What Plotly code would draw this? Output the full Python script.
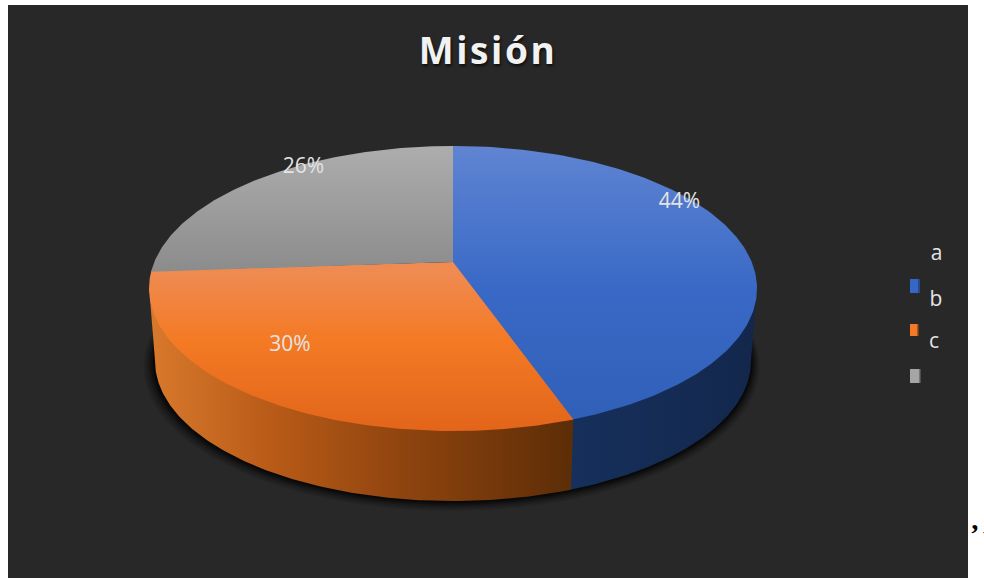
import numpy as np
import plotly.graph_objects as go

# Chart content
title_text = "Misión"
categories = ["a", "b", "c"]
shares = [44, 30, 26]

# Pixel-space canvas
WIDTH, HEIGHT = 984, 578
PANEL = "#282828"
TEXT = "#e4e4e4"

# Perspective model of the disc: unit circle -> canvas
CX, CY = 453.0, 262.0
K = 0.186
A = 298.7
B = 137.6
DEPTH_SCALE = 0.98
DEPTH_SHIFT = 73.4
RIM_TWIST = np.radians(3.2)


def top_rim(theta):
    """Project clockwise-from-north angles (radians) onto the upper face."""
    u, v = np.sin(theta), np.cos(theta)
    w = 1 + K * v
    return CX + A * u / w, CY - B * v / w


def bottom_rim(theta):
    x, y = top_rim(theta)
    return CX + DEPTH_SCALE * (x - CX), CY + DEPTH_SHIFT + DEPTH_SCALE * (y - CY)


def arc(a0, a1, n=160):
    return np.linspace(a0, a1, n)


fig = go.Figure()

# Soft drop shadow hugging the lower rim
full = arc(0, 2 * np.pi, 300)
for grow, drop, alpha in [(10, 5, 0.10), (8, 4, 0.14), (6, 3, 0.2), (4, 2, 0.3), (2, 1, 0.4)]:
    bx, by = bottom_rim(full)
    f = 1 + grow / 298
    fig.add_trace(go.Scatter(
        x=CX + f * (bx - CX) - grow * 0.15,
        y=by + drop + (f - 1) * (by - 360),
        mode="lines", line=dict(width=0), fill="toself",
        fillcolor=f"rgba(0,0,0,{alpha})", hoverinfo="skip", showlegend=False,
    ))

# Edges of the wedges, from the shares; the twist models the 3D view rotation
edges = np.cumsum([0] + shares) / sum(shares) * 2 * np.pi
edges = edges - RIM_TWIST * np.sin(2 * edges)
TANGENT = np.arccos(-K)  # angle where the rim turns away from the viewer
OVERLAP = np.radians(0.4)  # lower layers run under their neighbours to hide seams

wall_ramps = [
    [[0, "#16305c"], [1, "#13274c"]],
    [[0, "#d8792c"], [0.3, "#b75a17"], [0.6, "#8f440f"], [1, "#5c2d07"]],
]

# Side walls of the two wedges facing the viewer
wall_spans = [(TANGENT, edges[1] + OVERLAP), (edges[1], 2 * np.pi - TANGENT)]
for (a0, a1), ramp in zip(wall_spans, wall_ramps):
    t = arc(a0, a1)
    tx, ty = top_rim(t)
    bx, by = bottom_rim(t)
    ty = ty - 2  # tuck the wall's upper edge under the face
    xs = np.concatenate([tx, bx[::-1], tx[:1]])
    ys = np.concatenate([ty, by[::-1], ty[:1]])
    fig.add_trace(go.Scatter(
        x=xs, y=ys, mode="lines", line=dict(width=0), fill="toself",
        fillgradient=dict(type="horizontal", colorscale=ramp,
                          start=float(xs.min()), stop=float(xs.max())),
        hoverinfo="skip", showlegend=False,
    ))

# Upper faces with a top-lit vertical gradient
face_ramps = [
    [[0, "#5f84d2"], [0.5, "#3969c6"], [1, "#2f5fb6"]],
    [[0, "#f09a6a"], [0.45, "#ef8a50"], [0.68, "#f47a24"], [1, "#e2651a"]],
    [[0, "#adadad"], [0.45, "#8b8b8b"], [1, "#8b8b8b"]],
]
face_spans = [
    (edges[0] - OVERLAP, edges[1] + OVERLAP, 3.0),
    (edges[1], edges[2] + OVERLAP, 0.0),
    (edges[2], edges[3], 0.0),
]
for (a0, a1, apex_push), ramp in zip(face_spans, face_ramps):
    mid = (a0 + a1) / 2
    ax, ay = CX - apex_push * np.sin(mid), CY + apex_push * np.cos(mid)
    rx, ry = top_rim(arc(a0, a1))
    xs = np.concatenate([[ax], rx, [ax]])
    ys = np.concatenate([[ay], ry, [ay]])
    fig.add_trace(go.Scatter(
        x=xs, y=ys, mode="lines", line=dict(width=0), fill="toself",
        fillgradient=dict(type="vertical", colorscale=ramp, start=146, stop=431),
        hoverinfo="skip", showlegend=False,
    ))

# Percentage labels
fig.add_trace(go.Scatter(
    x=[679.5, 290, 303.5], y=[203, 346, 168], mode="text",
    text=[f"{s}%" for s in shares],
    textfont=dict(family="Open Sans", size=21, color=TEXT),
    hoverinfo="skip", showlegend=False,
))

# Legend labels sit above their swatches
fig.add_trace(go.Scatter(
    x=[936.5, 936, 934], y=[255, 301, 343], mode="text", text=categories,
    textfont=dict(family="Open Sans", size=21, color=TEXT),
    hoverinfo="skip", showlegend=False,
))

shapes = [dict(type="rect", x0=8, x1=968, y0=5, y1=578, fillcolor=PANEL,
               line=dict(width=0), layer="below")]
swatches = [
    (910, 920, 279, 293, "#3568c6", "#264a8e"),
    (910, 918.5, 324, 336, "#f47b26", "#a9551a"),
    (910, 920.5, 369, 383, "#a5a5a5", "#757575"),
]
for x0, x1, y0, y1, face, edge in swatches:
    shapes.append(dict(type="rect", x0=x0, x1=x1 - 1.5, y0=y0, y1=y1,
                       fillcolor=face, line=dict(width=0)))
    shapes.append(dict(type="rect", x0=x1 - 1.5, x1=x1, y0=y0, y1=y1,
                       fillcolor=edge, line=dict(width=0)))

annotations = [dict(
    x=968, y=533, xref="x", yref="y", text="<b>’\u200a’</b>", showarrow=False,
    xanchor="left", yanchor="middle",
    font=dict(family="Liberation Serif", size=28, color="#000000"),
)]

fig.update_layout(
    width=WIDTH, height=HEIGHT,
    margin=dict(l=0, r=0, t=0, b=0),
    paper_bgcolor="#ffffff", plot_bgcolor="rgba(0,0,0,0)",
    showlegend=False,
    xaxis=dict(range=[0, WIDTH], visible=False, fixedrange=True),
    yaxis=dict(range=[HEIGHT, 0], visible=False, fixedrange=True),
    title=dict(
        text=title_text, x=488 / WIDTH, xanchor="center",
        y=1 - 51 / HEIGHT, yanchor="middle",
        font=dict(family="Open Sans", size=37, weight=700, color="#f2f2f2",
                  shadow="1px 2px 3px rgba(0,0,0,0.7)"),
    ),
    shapes=shapes,
    annotations=annotations,
)

# Plotly has no letter-spacing option, so the title gets it as an SVG style
fig.write_html(
    "out.html",
    post_script="document.querySelectorAll('.gtitle').forEach(function(t){t.style.letterSpacing='2.6px';});",
)
